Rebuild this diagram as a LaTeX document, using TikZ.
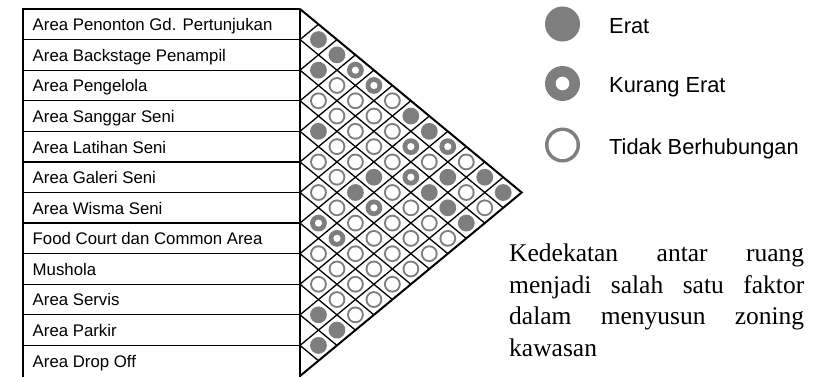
\documentclass[tikz,border=0pt]{standalone}
\usepackage{fontspec}
\setmainfont{Liberation Serif}
\newfontfamily\labelfont{Liberation Sans}
\definecolor{dotgray}{RGB}{126,126,126}
% inner (hole) radius of each mark type, outer radius is shared
\def\holeE{0}
\def\holeK{3.6}
\def\holeT{6.4}
\begin{document}
\begin{tikzpicture}[x=1pt,y=-1pt,
  rowlabel/.style={anchor=base west,inner sep=0pt,font=\labelfont\fontsize{16.8}{18}\selectfont},
  legendtext/.style={anchor=base west,inner sep=0pt,font=\labelfont\fontsize{21.8}{24}\selectfont},
  bodytext/.style={anchor=base west,inner sep=0pt,font=\fontsize{25.5}{31}\selectfont},
  gridline/.style={line width=1.3pt,black},
  outeredge/.style={line width=2pt,black,line join=miter},
  cell/.style={circle,inner sep=0pt,minimum size=17pt},
  keycell/.style={circle,inner sep=0pt,minimum size=35pt}]
\useasboundingbox (0,0) rectangle (813,376);

% ---- list of spaces ----
\foreach \k in {1,...,11}
  \draw[line width=1.3pt] (22.7,{9+30.5833*\k}) -- (300,{9+30.5833*\k});
\draw[line width=2.5pt] (21.5,9) -- (300,9);
\draw[line width=2pt] (22.7,8) -- (22.7,380);
\draw[line width=1.5pt] (300,9) -- (300,380);

\foreach \i/\name in {1/Area Penonton Gd. Pertunjukan,2/Area Backstage Penampil,
  3/Area Pengelola,4/Area Sanggar Seni,5/Area Latihan Seni,6/Area Galeri Seni,
  7/Area Wisma Seni,8/Food Court dan Common Area,9/Mushola,10/Area Servis,
  11/Area Parkir,12/Area Drop Off}
  \node[rowlabel] (lab\i) at (32.5,{9+30.5833*(\i-0.5)+6.4}) {\name};

% ---- relationship matrix grid ----
\foreach \k in {1,...,11}
  \draw[gridline] ({300+18.475*\k},{9+15.2917*\k}) -- (300,{9+30.5833*\k})
     -- ({300+18.475*(12-\k)},{9+15.2917*(12+\k)});
\draw[outeredge] (300,9) -- (521.7,192.5) -- (300,376);

% ---- relationship marks: row i / row j / type ----
\foreach \i/\j/\t in {
  1/2/E,1/3/E,1/4/K,1/5/K,1/6/T,1/7/E,1/8/E,1/9/K,1/10/T,1/11/E,1/12/E,
  2/3/E,2/4/T,2/5/T,2/6/T,2/7/T,2/8/K,2/9/T,2/10/E,2/11/T,2/12/T,
  3/4/T,3/5/T,3/6/T,3/7/T,3/8/T,3/9/K,3/10/E,3/11/E,3/12/E,
  4/5/E,4/6/T,4/7/T,4/8/E,4/9/T,4/10/T,4/11/T,4/12/T,
  5/6/T,5/7/T,5/8/E,5/9/K,5/10/T,5/11/T,5/12/T,
  6/7/T,6/8/T,6/9/T,6/10/T,6/11/T,6/12/T,
  7/8/K,7/9/K,7/10/T,7/11/T,7/12/T,
  8/9/T,8/10/T,8/11/T,8/12/T,
  9/10/T,9/11/T,9/12/T,
  10/11/E,10/12/E,
  11/12/E}
{
  \node[cell] (p\i-\j) at ({300+18.475*(\j-\i)},{9+15.2917*(\i+\j-1)}) {};
  \fill[dotgray] (p\i-\j.center) circle[radius=8.4pt];
  \fill[white] (p\i-\j.center) circle[radius={\csname hole\t\endcsname pt}];
}

% ---- legend ----
\node[keycell] (keyerat) at (562.5,24) {};
\node[keycell] (keykurang) at (562.5,83.5) {};
\node[keycell] (keytidak) at (562.5,145) {};
\fill[dotgray] (keyerat.center) circle[radius=17.5pt];
\fill[dotgray] (keykurang.center) circle[radius=17.5pt];
\fill[white] (keykurang.center) circle[radius=6.8pt];
\fill[dotgray] (keytidak.center) circle[radius=17.5pt];
\fill[white] (keytidak.center) circle[radius=14pt];
\node[legendtext] (txterat) at (609,33) {Erat};
\node[legendtext] (txtkurang) at (609,92.3) {Kurang Erat};
\node[legendtext] (txttidak) at (609,154) {Tidak Berhubungan};

% ---- note ----
\node[bodytext] (note1) at (509,261.8) {\makebox[295pt][s]{Kedekatan antar ruang}};
\node[bodytext] (note2) at (509,293.2) {\makebox[295pt][s]{menjadi salah satu faktor}};
\node[bodytext] (note3) at (509,324.6) {\makebox[295pt][s]{dalam menyusun zoning}};
\node[bodytext] (note4) at (509,356) {kawasan};
\end{tikzpicture}
\end{document}
